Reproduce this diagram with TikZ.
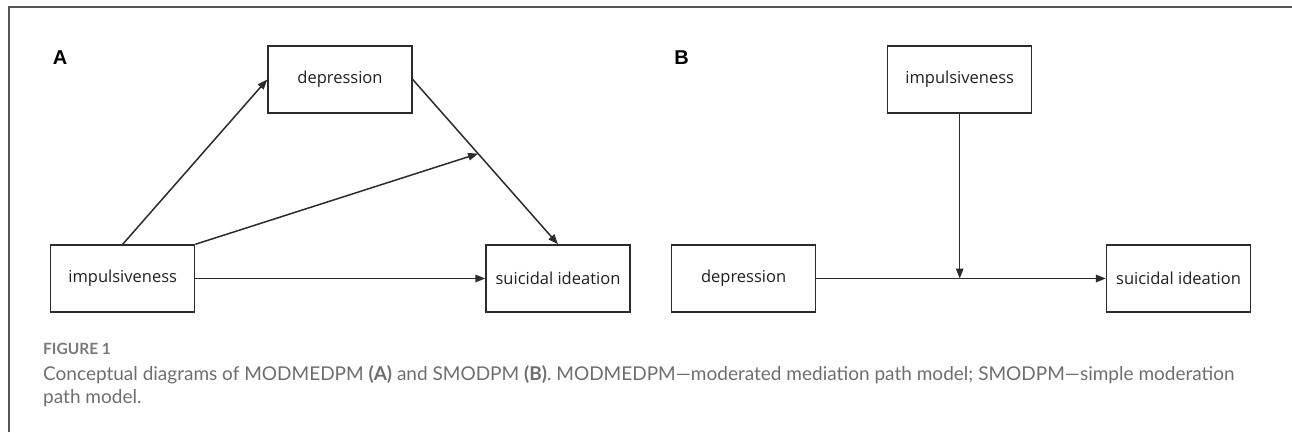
\documentclass[tikz,border=0pt]{standalone}
\usepackage{fontspec}
\usetikzlibrary{arrows.meta,calc}
\newfontfamily\boxfont{Open Sans}
\newfontfamily\capfont{Lato}
\newfontfamily\labfont{Liberation Sans}
\definecolor{framegray}{HTML}{555555}
\definecolor{linecol}{HTML}{2B2B2B}
\definecolor{capgray}{HTML}{6E6E6E}
\definecolor{figgray}{HTML}{7A7A7A}
\tikzset{
  varbox/.style={draw=linecol, line width=1.5pt, minimum width=144pt, minimum height=67pt, inner sep=0pt, font=\boxfont\fontsize{16.5}{19}\selectfont, text=black!88},
  conn/.style={draw=linecol, line width=1.5pt, -{Triangle[length=10pt,width=7.5pt]}},
  panellab/.style={font=\labfont\bfseries\fontsize{20}{24}\selectfont, inner sep=0pt},
  captxt/.style={font=\capfont\fontsize{19}{23}\selectfont, text=capgray, inner sep=0pt, anchor=base west},
}
\begin{document}
\begin{tikzpicture}[x=1pt,y=1pt]
\useasboundingbox (0,0) rectangle (1292,-432);
% frame
\draw[framegray, line width=1.4pt] (9,-432) -- (9,-7) -- (1292,-7);
% panel A
\node[panellab] (labA) at (60,-58) {A};
\node[varbox] (depA) at (340,-79.5) {depression};
\node[varbox] (impA) at (122.7,-278.5) {impulsiveness};
\node[varbox] (suiA) at (558,-278.5) {suicidal ideation};
\draw[conn] (impA.north) -- (depA.west);
\draw[conn] (depA.east) -- coordinate[pos=0.45] (modA) (suiA.north);
\draw[conn] (impA.north east) -- (modA);
\draw[conn] (impA.east) -- (suiA.west);
% panel B
\node[panellab] (labB) at (681.6,-58) {B};
\node[varbox] (impB) at (959.7,-79.5) {impulsiveness};
\node[varbox] (depB) at (743.6,-278.5) {depression};
\node[varbox] (suiB) at (1178.5,-278.5) {suicidal ideation};
\draw[conn] (depB.east) -- (suiB.west);
\coordinate (modB) at (impB.south |- depB.east);
\draw[conn] (impB.south) -- (modB);
% caption
\node[captxt, font=\capfont\bfseries\fontsize{15.5}{18}\selectfont, text=figgray] (figlab) at (43,-354) {FIGURE 1};
\node[captxt] (cap1) at (43,-380) {Conceptual diagrams of MODMEDPM {\bfseries(A)} and SMODPM {\bfseries(B)}. MODMEDPM\textemdash moderated mediation path model; SMODPM\textemdash simple moderation};
\node[captxt] (cap2) at (43,-403) {path model.};
\end{tikzpicture}
\end{document}
